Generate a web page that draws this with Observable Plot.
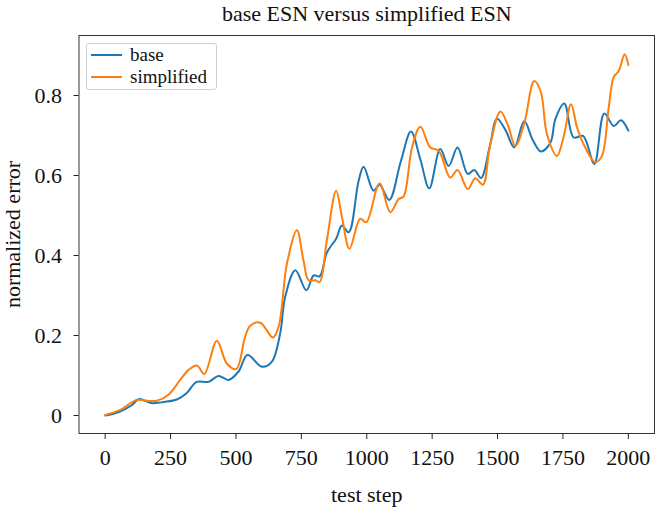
<!DOCTYPE html>
<html>
<head>
<meta charset="utf-8">
<script src="https://cdn.jsdelivr.net/npm/d3@7"></script>
<script src="https://cdn.jsdelivr.net/npm/@observablehq/plot@0.6"></script>
<style>
  html, body { margin: 0; padding: 0; background: #fff; }
  #wrap { position: relative; width: 662px; height: 509px; font-family: "Liberation Serif", "Times New Roman", serif; }
  #legend { position: absolute; left: 86px; top: 43px; width: 129px; height: 45px; border: 1px solid #d0d0d0; border-radius: 3px; background: rgba(255,255,255,0.85); }
  .row { position: absolute; left: 0; height: 22px; display: flex; align-items: center; font-size: 19px; color: #111; }
  .sw { width: 31px; height: 2px; margin-left: 4px; margin-right: 8px; }
</style>
</head>
<body>
<div id="wrap"></div>
<script>
const title = "base ESN versus simplified ESN";
const xLabel = "test step";
const yLabel = "normalized error";
const seriesNames = ["base", "simplified"];
const seriesColors = ["#1f77b4", "#ff7f0e"];
const xTicks = [0, 250, 500, 750, 1000, 1250, 1500, 1750, 2000];
const yTicks = [0, 0.2, 0.4, 0.6, 0.8];

const baseSteps = [0,50,100,130,175,225,274,310,350,395,433,472,510,544,599,637,669,688,727,769,797,820,848,883,905,931,969,988,1026,1049,1086,1130,1169,1205,1239,1281,1313,1347,1386,1411,1437,1470,1498,1530,1564,1602,1635,1666,1702,1721,1755,1791,1827,1870,1908,1944,1972,2000];
const baseError = [0.000,0.008,0.025,0.041,0.031,0.034,0.040,0.055,0.084,0.084,0.099,0.089,0.110,0.151,0.122,0.134,0.205,0.296,0.363,0.313,0.350,0.348,0.408,0.442,0.475,0.458,0.587,0.622,0.562,0.577,0.539,0.635,0.710,0.640,0.568,0.666,0.624,0.670,0.604,0.614,0.594,0.672,0.742,0.714,0.670,0.736,0.688,0.660,0.682,0.741,0.780,0.695,0.699,0.629,0.755,0.724,0.738,0.712];

const simpSteps = [0,57,121,159,198,242,287,319,351,379,427,465,501,535,554,593,641,663,695,733,758,778,803,820,848,883,905,934,975,998,1049,1090,1122,1141,1173,1205,1243,1275,1319,1347,1386,1415,1444,1470,1511,1540,1568,1602,1640,1665,1689,1727,1752,1781,1804,1829,1874,1899,1925,1944,1963,1986,2000];
const simpError = [0.001,0.014,0.039,0.037,0.037,0.052,0.089,0.114,0.125,0.104,0.187,0.130,0.116,0.197,0.224,0.232,0.195,0.222,0.380,0.463,0.388,0.338,0.338,0.334,0.440,0.562,0.497,0.417,0.492,0.483,0.580,0.508,0.541,0.548,0.670,0.722,0.670,0.662,0.595,0.614,0.566,0.593,0.577,0.670,0.760,0.725,0.674,0.730,0.836,0.810,0.703,0.649,0.695,0.778,0.720,0.678,0.633,0.649,0.770,0.846,0.861,0.903,0.876];

const rows = [];
baseSteps.forEach((s, i) => rows.push({series: seriesNames[0], step: s, err: baseError[i]}));
simpSteps.forEach((s, i) => rows.push({series: seriesNames[1], step: s, err: simpError[i]}));

const fmtY = d => d === 0 ? "0" : d.toFixed(1);
const fmtX = d => String(d);

const chart = Plot.plot({
  width: 662,
  height: 509,
  marginLeft: 78.5,
  marginRight: 8,
  marginTop: 35,
  marginBottom: 76,
  style: {fontFamily: "'Liberation Serif', 'Times New Roman', serif", background: "#fff", color: "#111"},
  x: {domain: [-100, 2100]},
  y: {domain: [-0.045, 0.95]},
  color: {domain: seriesNames, range: seriesColors},
  marks: [
    Plot.axisX({ticks: xTicks, tickSize: 6, tickPadding: 10, fontSize: 22, label: null, tickFormat: fmtX, stroke: "#222"}),
    Plot.axisY({ticks: yTicks, tickSize: 5, tickPadding: 12, fontSize: 22, label: null, tickFormat: fmtY, stroke: "#222"}),
    Plot.line(rows, {x: "step", y: "err", z: "series", stroke: "series", strokeWidth: 2, curve: "catmull-rom"}),
    Plot.frame({stroke: "#333", strokeWidth: 1}),
    Plot.text([title], {frameAnchor: "top", dy: -30, fontSize: 22, fill: "#111"}),
    Plot.text([xLabel], {frameAnchor: "bottom", dy: 68, fontSize: 22, fill: "#111"}),
    Plot.text([yLabel], {frameAnchor: "left", textAnchor: "middle", dx: -66, rotate: -90, fontSize: 22, fill: "#111"})
  ]
});

const wrap = document.getElementById("wrap");
wrap.appendChild(chart);
const legend = document.createElement("div");
legend.id = "legend";
seriesNames.forEach((name, i) => {
  const row = document.createElement("div");
  row.className = "row";
  row.style.top = (i === 0 ? 0 : 22) + "px";
  const sw = document.createElement("div");
  sw.className = "sw";
  sw.style.background = seriesColors[i];
  const t = document.createElement("span");
  t.textContent = name;
  row.appendChild(sw);
  row.appendChild(t);
  legend.appendChild(row);
});
wrap.appendChild(legend);
</script>
</body>
</html>
